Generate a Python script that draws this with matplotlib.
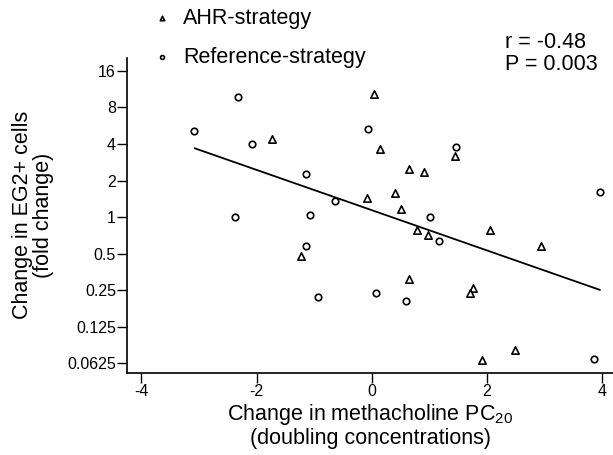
import matplotlib
matplotlib.use('Agg')
import matplotlib.pyplot as plt
from matplotlib.ticker import NullLocator

plt.rcParams['font.family'] = ['Liberation Sans', 'DejaVu Sans']
plt.rcParams['mathtext.default'] = 'regular'

# AHR-strategy (triangles): change in PC20 vs fold change in EG2+ cells
ahr_x = [-1.74, 0.04, 0.15, 0.65, 0.90, -0.09, 0.40, 0.50, 1.44, 0.78,
         0.97, -1.22, 0.65, 2.05, 2.94, 1.76, 1.71, 2.49, 1.92]
ahr_y = [4.38, 10.27, 3.63, 2.51, 2.36, 1.43, 1.57, 1.16, 3.20, 0.785,
         0.71, 0.48, 0.31, 0.785, 0.58, 0.262, 0.238, 0.080, 0.0666]

# Reference-strategy (circles)
ref_x = [-2.32, -3.08, -2.08, -2.37, -0.07, -1.14, -0.63, -1.07, 1.01,
         1.46, 3.97, 1.16, -1.14, -0.94, 0.07, 0.60, 3.86]
ref_y = [9.78, 5.10, 4.0, 1.0, 5.31, 2.28, 1.37, 1.04, 1.0,
         3.78, 1.61, 0.63, 0.58, 0.218, 0.238, 0.205, 0.0684]

# regression line end points
fit_x = [-3.07, 3.96]
fit_y = [3.68, 0.252]

xticks = [-4, -2, 0, 2, 4]
xtick_labels = ['-4', '-2', '0', '2', '4']
yticks = [16, 8, 4, 2, 1, 0.5, 0.25, 0.125, 0.0625]
ytick_labels = ['16', '8', '4', '2', '1', '0.5', '0.25', '0.125', '0.0625']

W, H = 613, 455
fig = plt.figure(figsize=(W / 100, H / 100), dpi=100)
ax = fig.add_axes([127 / W, 1 - 373.3 / H, (W - 127) / W, (373.3 - 58) / H])

ax.plot(fit_x, fit_y, color='black', lw=1.3)
ax.scatter(ahr_x, ahr_y, marker='^', s=28, facecolors='white',
           edgecolors='black', linewidths=1.2, zorder=3, label='AHR-strategy')
ax.scatter(ref_x, ref_y, marker='o', s=22, facecolors='white',
           edgecolors='black', linewidths=1.2, zorder=3, label='Reference-strategy')

ax.set_yscale('log', base=2)
ax.set_ylim(2 ** -4.27, 2 ** 4.35)
ax.set_xlim(-4.25, 4.19)
ax.set_yticks(yticks)
ax.set_yticklabels(ytick_labels)
ax.yaxis.set_minor_locator(NullLocator())
ax.set_xticks(xticks)
ax.set_xticklabels(xtick_labels)

for s in ['top', 'right']:
    ax.spines[s].set_visible(False)
for s in ['left', 'bottom']:
    ax.spines[s].set_linewidth(1.2)
ax.tick_params(axis='y', length=7, width=1, pad=1, labelsize=11.5)
ax.tick_params(axis='x', length=7, width=1, pad=0.5, labelsize=11.5)

leg = ax.legend(loc='upper left', bbox_to_anchor=(156 / W, 1 - 8 / H),
                bbox_transform=fig.transFigure, frameon=False, fontsize=15.5,
                handlelength=0.6, handletextpad=0.65, borderpad=0,
                borderaxespad=0, labelspacing=0.82, markerscale=0.6)

fig.text(505 / W, 1 - 42 / H, 'r = -0.48', fontsize=15.5, va='center')
fig.text(505 / W, 1 - 65 / H, 'P = 0.003', fontsize=15.5, va='center')

fig.text(33 / W, 1 - 215 / H, 'Change in EG2+ cells\n(fold change)',
         rotation=90, ha='center', va='center', fontsize=15.5, linespacing=1.05)
fig.text(370 / W, 1 - 425.5 / H,
         'Change in methacholine PC$_{20}$\n(doubling concentrations)',
         ha='center', va='center', fontsize=15.5, linespacing=1.05)

fig.savefig('out.png', dpi=100)
